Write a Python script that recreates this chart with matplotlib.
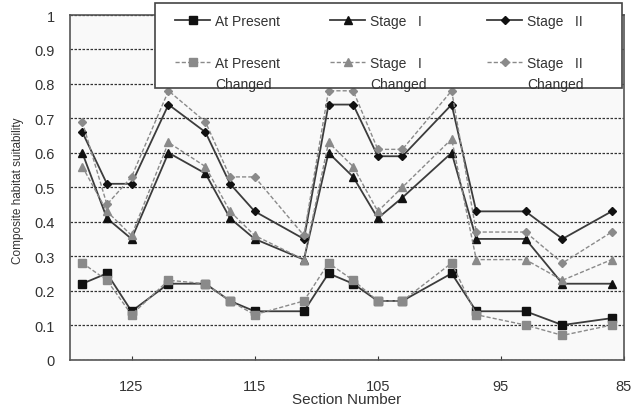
import matplotlib.pyplot as plt
from matplotlib.lines import Line2D
from matplotlib.patches import Rectangle

plt.rcParams['font.family'] = ['Liberation Sans', 'DejaVu Sans']

sections = [129, 127, 125, 122, 119, 117, 115, 111, 109, 107, 105, 103, 99, 97, 93, 90, 86]

at_present = [0.22, 0.25, 0.14, 0.22, 0.22, 0.17, 0.14, 0.14, 0.25, 0.22, 0.17, 0.17,
              0.25, 0.14, 0.14, 0.10, 0.12]
at_present_chg = [0.28, 0.23, 0.13, 0.23, 0.22, 0.17, 0.13, 0.17, 0.28, 0.23, 0.17, 0.17,
                  0.28, 0.13, 0.10, 0.07, 0.10]
stage1 = [0.60, 0.41, 0.35, 0.60, 0.54, 0.41, 0.35, 0.29, 0.60, 0.53, 0.41, 0.47,
          0.60, 0.35, 0.35, 0.22, 0.22]
stage1_chg = [0.56, 0.43, 0.36, 0.63, 0.56, 0.43, 0.36, 0.29, 0.63, 0.56, 0.43, 0.50,
              0.64, 0.29, 0.29, 0.23, 0.29]
stage2 = [0.66, 0.51, 0.51, 0.74, 0.66, 0.51, 0.43, 0.35, 0.74, 0.74, 0.59, 0.59,
          0.74, 0.43, 0.43, 0.35, 0.43]
stage2_chg = [0.69, 0.45, 0.53, 0.78, 0.69, 0.53, 0.53, 0.36, 0.78, 0.78, 0.61, 0.61,
              0.78, 0.37, 0.37, 0.28, 0.37]

labels = ['At Present', 'At Present\nChanged', 'Stage   I', 'Stage   I\nChanged',
          'Stage   II', 'Stage   II\nChanged']

dark_line = '#3c3c3c'
dark_mk = '#111111'
grey = '#8a8a8a'
dash = (0, (3, 1.5))

series = [
    (at_present, 's', 6, False),
    (at_present_chg, 's', 6, True),
    (stage1, '^', 6, False),
    (stage1_chg, '^', 6, True),
    (stage2, 'D', 4.5, False),
    (stage2_chg, 'D', 4.5, True),
]

fig = plt.figure(figsize=(6.43, 4.10), dpi=100)
ax = fig.add_axes([70 / 643, 1 - 360.5 / 410, 554 / 643, 344.5 / 410])
ax.set_facecolor('#f9f9f9')

handles = []
for vals, mk, ms, changed in series:
    if changed:
        st = dict(color=grey, ls=dash, lw=1.0, marker=mk, ms=ms, mfc=grey, mec=grey)
    else:
        st = dict(color=dark_line, ls='-', lw=1.3, marker=mk, ms=ms, mfc=dark_mk, mec=dark_mk)
    ax.plot(sections, vals, **st)
    handles.append(st)

ax.set_xlim(130, 85)
ax.set_ylim(0, 1)
ax.set_xticks([125, 115, 105, 95, 85])
ax.set_yticks([i / 10 for i in range(11)])
ax.set_yticklabels(['0'] + ['0.%d' % i for i in range(1, 10)] + ['1'])
ax.tick_params(axis='x', direction='in', length=3, pad=14, labelsize=10.5, colors='#333333')
ax.tick_params(axis='y', length=0, pad=11, labelsize=10.5, colors='#333333')
for lbl in ax.get_xticklabels() + ax.get_yticklabels():
    lbl.set_color('#333333')
ax.grid(axis='y', color='#333333', ls=(0, (2, 1.2)), lw=0.9)
ax.set_axisbelow(True)
for sp in ax.spines.values():
    sp.set_color('#555555')
    sp.set_linewidth(1.2)

ax.set_xlabel('Section Number', fontsize=11, color='#333333', labelpad=-1)
fig.text(18 / 643, 1 - 191 / 410, 'Composite habitat suitability', rotation=90,
         fontsize=8.5, color='#333333', ha='center', va='center')

# legend drawn by hand so the markers sit on the first text line
W, H = 643.0, 410.0
fig.patches.append(Rectangle((155 / W, 1 - 89 / H), 467 / W, 85 / H, transform=fig.transFigure,
                             facecolor='white', edgecolor='#444444', lw=1.2, zorder=5))
col_x = [175, 330, 487]
row_y = [21, 63]
for i, (st, lab) in enumerate(zip(handles, labels)):
    c, r = divmod(i, 2)
    x0 = col_x[c]
    y = 1 - row_y[r] / H
    fig.lines.append(Line2D([x0 / W, (x0 + 35) / W], [y, y], transform=fig.transFigure,
                            color=st['color'], ls=st['ls'], lw=st['lw'], zorder=6))
    fig.lines.append(Line2D([(x0 + 17.5) / W], [y], transform=fig.transFigure,
                            marker=st['marker'], ms=st['ms'], mfc=st['mfc'], mec=st['mec'],
                            ls='none', zorder=7))
    fig.text((x0 + 40) / W, y + 6 / H, lab, fontsize=10, color='#333333', ha='left', va='top',
             multialignment='left', linespacing=1.6, zorder=8)

fig.savefig('out.png', dpi=100)
